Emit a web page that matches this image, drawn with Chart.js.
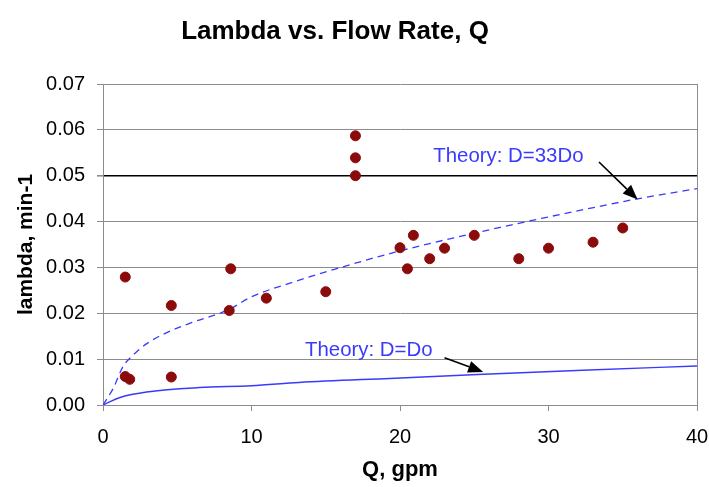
<!DOCTYPE html>
<html>
<head>
<meta charset="utf-8">
<script src="https://cdn.jsdelivr.net/npm/chart.js@4.4.1/dist/chart.umd.min.js"></script>
<style>
  html, body { margin: 0; padding: 0; background: #ffffff; }
  #wrap { width: 709px; height: 487px; }
</style>
</head>
<body>
<div id="wrap"><canvas id="c" width="709" height="487"></canvas></div>
<script>
// ---- data ----
const chartTitle = "Lambda vs. Flow Rate, Q";
const xTitle = "Q, gpm";
const yTitle = "lambda, min-1";

const qObs = [1.5, 1.5, 1.8, 4.6, 4.6, 8.6, 8.5, 11.0, 15.0, 17.0, 17.0, 17.0, 20.0, 20.5, 20.9, 22.0, 23.0, 25.0, 28.0, 30.0, 33.0, 35.0];
const lambdaObs = [0.0279, 0.0062, 0.0056, 0.0217, 0.0061, 0.0297, 0.0206, 0.0233, 0.0247, 0.0587, 0.0539, 0.0500, 0.0343, 0.0297, 0.0370, 0.0319, 0.0342, 0.0370, 0.0319, 0.0342, 0.0355, 0.0386];

const q33 = [0, 0.7, 1.35, 2, 3, 4.3, 6, 8.4, 10, 12.8, 15.7, 20, 26.7, 32.5, 35.9, 40];
const lambda33 = [0, 0.0037, 0.0084, 0.0108, 0.0135, 0.0158, 0.0180, 0.0207, 0.0236, 0.0268, 0.0297, 0.0336, 0.0387, 0.0427, 0.0449, 0.0472];

const qDo = [0, 1.1, 3.1, 6.5, 10, 13.2, 19.3, 25.6, 32.3, 40];
const lambdaDo = [0, 0.0016, 0.0029, 0.0038, 0.0042, 0.0049, 0.0058, 0.0067, 0.0076, 0.0085];

const xTicks = [0, 10, 20, 30, 40];
const yTicks = [0, 0.01, 0.02, 0.03, 0.04, 0.05, 0.06, 0.07];

// annotation labels (text + anchor/arrow in data units)
const labels = [
  { text: "Theory: D=33Do", q: 27.3, l: 0.0543, from: [33.4, 0.0530], to: [36.0, 0.0448] },
  { text: "Theory: D=Do",   q: 17.9, l: 0.0120, from: [23.0, 0.0103], to: [25.6, 0.0072] }
];

const toXY = (xs, ys) => xs.map((x, i) => ({ x: x, y: ys[i] }));

const FONT = "'Liberation Sans', Arial, sans-serif";
const GRID = '#8c8c8c';
const BLUE = '#3a3aff';

const overlay = {
  id: 'overlay',
  afterDatasetsDraw(chart) {
    const ctx = chart.ctx;
    const xs = chart.scales.x, ys = chart.scales.y;
    ctx.save();
    // right border
    ctx.strokeStyle = GRID;
    ctx.lineWidth = 1;
    ctx.beginPath();
    const rx = Math.round(chart.chartArea.right) + 0.5;
    ctx.moveTo(rx, chart.chartArea.top);
    ctx.lineTo(rx, chart.chartArea.bottom);
    ctx.stroke();
    // annotations
    labels.forEach(a => {
      ctx.font = "20.4px " + FONT;
      ctx.fillStyle = BLUE;
      ctx.textAlign = 'center';
      ctx.textBaseline = 'middle';
      ctx.fillText(a.text, xs.getPixelForValue(a.q), ys.getPixelForValue(a.l));
      const x1 = xs.getPixelForValue(a.from[0]), y1 = ys.getPixelForValue(a.from[1]);
      const x2 = xs.getPixelForValue(a.to[0]), y2 = ys.getPixelForValue(a.to[1]);
      const ang = Math.atan2(y2 - y1, x2 - x1);
      const hl = 15, hw = 6;
      const bx = x2 - hl * Math.cos(ang), by = y2 - hl * Math.sin(ang);
      ctx.strokeStyle = '#000';
      ctx.lineWidth = 1.6;
      ctx.beginPath();
      ctx.moveTo(x1, y1);
      ctx.lineTo(bx, by);
      ctx.stroke();
      ctx.fillStyle = '#000';
      ctx.beginPath();
      ctx.moveTo(x2, y2);
      ctx.lineTo(bx + hw * Math.sin(ang), by - hw * Math.cos(ang));
      ctx.lineTo(bx - hw * Math.sin(ang), by + hw * Math.cos(ang));
      ctx.closePath();
      ctx.fill();
    });
    // chart title
    ctx.font = "bold 26px " + FONT;
    ctx.fillStyle = '#000';
    ctx.textAlign = 'center';
    ctx.textBaseline = 'alphabetic';
    ctx.fillText(chartTitle, 335, 38.5);
    ctx.restore();
  }
};

new Chart(document.getElementById('c'), {
  type: 'scatter',
  data: {
    datasets: [
      {
        label: 'Theory: D=33Do',
        data: toXY(q33, lambda33),
        showLine: true,
        borderColor: BLUE,
        borderWidth: 1.3,
        borderDash: [7, 5],
        pointRadius: 0,
        cubicInterpolationMode: 'monotone',
        order: 2
      },
      {
        label: 'Theory: D=Do',
        data: toXY(qDo, lambdaDo),
        showLine: true,
        borderColor: BLUE,
        borderWidth: 1.5,
        pointRadius: 0,
        cubicInterpolationMode: 'monotone',
        order: 3
      },
      {
        label: 'Measured',
        data: toXY(qObs, lambdaObs),
        showLine: false,
        pointRadius: 5,
        pointStyle: 'circle',
        backgroundColor: '#8b0a0a',
        borderColor: '#8b0a0a',
        order: 1
      }
    ]
  },
  options: {
    responsive: false,
    animation: false,
    events: [],
    layout: { padding: { left: 0, right: 12, top: 84, bottom: 0 } },
    plugins: {
      legend: { display: false },
      tooltip: { enabled: false },
      title: { display: false }
    },
    scales: {
      x: {
        type: 'linear',
        min: 0, max: 40,
        afterFit: s => { s.height = 82; s.paddingLeft = 0; s.paddingRight = 0; },
        afterBuildTicks: s => { s.ticks = xTicks.map(v => ({ value: v })); },
        grid: {
          color: 'rgba(0,0,0,0)',
          tickColor: GRID,
          tickLength: 6,
          drawOnChartArea: true
        },
        border: { color: GRID, width: 1 },
        ticks: {
          color: '#000',
          padding: 14,
          font: { family: FONT, size: 20 },
          callback: v => String(v)
        },
        title: {
          display: true,
          text: xTitle,
          color: '#000',
          font: { family: FONT, size: 22, weight: 'bold' },
          padding: { top: 2, bottom: 4 }
        }
      },
      y: {
        type: 'linear',
        min: 0, max: 0.07,
        afterFit: s => { s.width = 103; s.paddingTop = 0; s.paddingBottom = 0; },
        afterBuildTicks: s => { s.ticks = yTicks.map(v => ({ value: v })); },
        grid: {
          color: c => (Math.abs(c.tick.value - 0.05) < 1e-9 ? '#000000' : GRID),
          lineWidth: c => (Math.abs(c.tick.value - 0.05) < 1e-9 ? 1.6 : 1),
          tickColor: GRID,
          tickLength: 6
        },
        border: { color: GRID, width: 1 },
        ticks: {
          color: '#000',
          padding: 12,
          font: { family: FONT, size: 20 },
          callback: v => Number(v).toFixed(2)
        },
        title: {
          display: true,
          text: yTitle,
          color: '#000',
          font: { family: FONT, size: 21, weight: 'bold' },
          padding: { top: 14, bottom: 0 }
        }
      }
    }
  },
  plugins: [overlay]
});
</script>
</body>
</html>
